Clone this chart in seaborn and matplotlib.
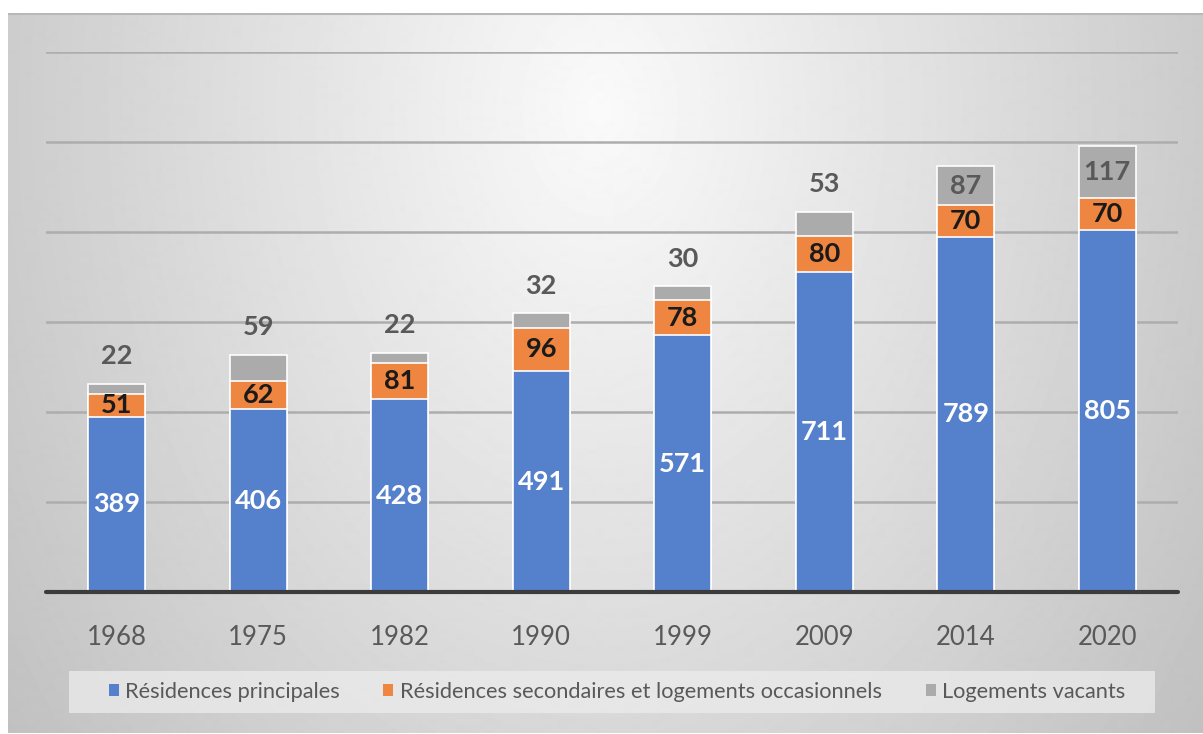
import numpy as np
import pandas as pd
import matplotlib
matplotlib.use("Agg")
import matplotlib.pyplot as plt
from matplotlib.patches import Patch, Rectangle
import seaborn as sns

# Housing stock by census year
years = ["1968", "1975", "1982", "1990", "1999", "2009", "2014", "2020"]
principales = [389, 406, 428, 491, 571, 711, 789, 805]
secondaires = [51, 62, 81, 96, 78, 80, 70, 70]
vacants = [22, 59, 22, 32, 30, 53, 87, 117]
series_names = [
    "Résidences principales",
    "Résidences secondaires et logements occasionnels",
    "Logements vacants",
]
colors = ["#5580CC", "#EE8540", "#ABABAB"]

sns.set_theme(style="white")
plt.rcParams["font.family"] = ["Lato", "DejaVu Sans"]

FW, FH = 1203, 734
fig = plt.figure(figsize=(FW / 100, FH / 100), dpi=100)
fig.patch.set_facecolor("white")

# Soft radial-gradient panel behind the chart
bg = fig.add_axes([8 / FW, 0, 1 - 8 / FW, 1 - 13 / FH], zorder=-10)
W, H = FW - 8, FH - 13
xx, yy = np.meshgrid(np.arange(W) + 8, np.arange(H) + 13)
d = np.sqrt(((xx - 600) / 650) ** 2 + ((yy - 110) / 900) ** 2)
shade = np.clip(250 - 50 * d, 0, 255) / 255
bg.imshow(shade, cmap="gray", vmin=0, vmax=1, aspect="auto", interpolation="bilinear")
bg.plot([0, W], [0.5, 0.5], color="#b8b8b8", lw=1.5)
bg.set_xlim(0, W)
bg.set_ylim(H, 0)
bg.axis("off")

# Main plotting area
ax = fig.add_axes([46 / FW, 1 - 592 / FH, 1132 / FW, 540 / FH])
ax.set_facecolor("none")

df = pd.DataFrame({"annee": years, "p": principales, "s": secondaires, "v": vacants})
df["ps"] = df["p"] + df["s"]
df["psv"] = df["ps"] + df["v"]

for col, c in zip(["psv", "ps", "p"], colors[::-1]):
    sns.barplot(data=df, x="annee", y=col, color=c, saturation=1, width=0.4,
                edgecolor="white", linewidth=1.2, ax=ax, zorder=3)

ax.set_ylim(0, 1200)
ax.set_xlim(-0.5, len(years) - 0.5)
ax.set_yticks(range(200, 1201, 200))
ax.yaxis.grid(True, color="#adadad", linewidth=1.8, zorder=0)
ax.set_axisbelow(True)
ax.tick_params(axis="y", left=False, labelleft=False)
ax.tick_params(axis="x", bottom=False, labelsize=18.5, labelcolor="#595959", pad=18)
ax.set_xlabel("")
ax.set_ylabel("")
for sp in ax.spines.values():
    sp.set_visible(False)
ax.axhline(0, color="#3c3c3c", linewidth=3.0, zorder=4, clip_on=False)

lab_kw = dict(ha="center", va="center", fontsize=19.5, fontweight="bold", zorder=5)
for i, (p, s, v) in enumerate(zip(principales, secondaires, vacants)):
    ax.text(i, p / 2, str(p), color="white", **lab_kw)
    ax.text(i, p + s / 2, str(s), color="#1a1a1a", **lab_kw)
    if v >= 80:
        ax.text(i, p + s + v / 2, str(v), color="#595959", **lab_kw)
    else:
        ax.annotate(str(v), (i, p + s + v), xytext=(0, 20), textcoords="offset points",
                    color="#595959", **lab_kw)

# Legend strip
fig.patches.append(Rectangle((69 / FW, 1 - 713 / FH), (1155 - 69) / FW, 42 / FH,
                             transform=fig.transFigure, facecolor="#ececec",
                             edgecolor="none", alpha=0.75, zorder=1))
handles = [Patch(facecolor=c, edgecolor="none") for c in colors]
leg = fig.legend(handles, series_names, loc="center",
                 bbox_to_anchor=(617 / FW, 1 - 692 / FH), ncol=3, frameon=False,
                 fontsize=15.7, handlelength=0.46, handleheight=0.46,
                 handletextpad=0.3, columnspacing=2.0)
for t in leg.get_texts():
    t.set_color("#595959")

fig.savefig("out.png", dpi=100)
